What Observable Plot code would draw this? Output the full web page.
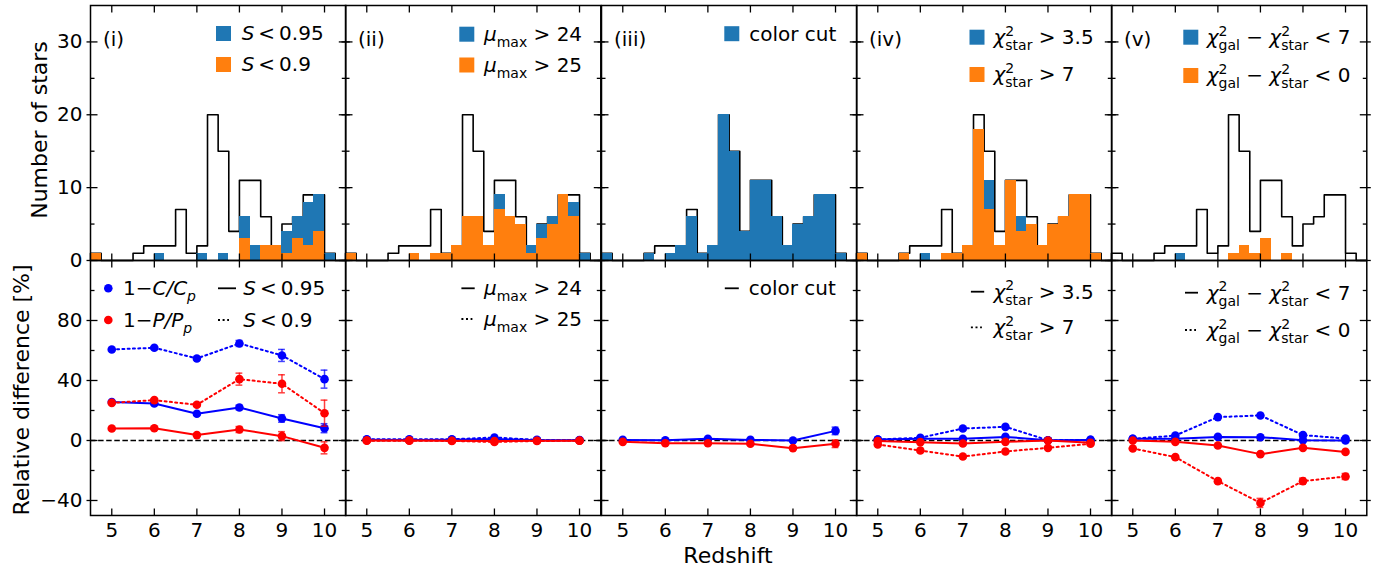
<!DOCTYPE html>
<html><head><meta charset="utf-8">
<script src="https://cdn.jsdelivr.net/npm/d3@7"></script>
<script src="https://cdn.jsdelivr.net/npm/@observablehq/plot@0.6"></script>
<style>
body{margin:0;background:#fff;}
#chart{position:relative;width:1384px;height:570px;overflow:hidden;background:#fff;}
#chart svg{position:absolute;overflow:visible;}
</style></head><body><div id="chart"></div>
<script>
// ---------- DATA ----------
const binStart = [4.5,4.75,5.0,5.25,5.5,5.75,6.0,6.25,6.5,6.75,7.0,7.25,7.5,7.75,8.0,8.25,8.5,8.75,9.0,9.25,9.5,9.75,10.0,10.25];
const binEnd   = [4.75,5.0,5.25,5.5,5.75,6.0,6.25,6.5,6.75,7.0,7.25,7.5,7.75,8.0,8.25,8.5,8.75,9.0,9.25,9.5,9.75,10.0,10.25,10.5];
const totalCounts = [1,0,0,0,1,2,2,2,7,1,2,20,15,4,11,11,6,2,5,6,9,9,1,0];
// blue = first cut, orange = second cut
const countsBlue_i   = [1,0,0,0,0,0,1,0,0,0,1,0,1,0,6,2,2,2,4,6,8,9,1,0];
const countsOrange_i = [1,0,0,0,0,0,0,0,0,0,0,0,0,0,3,0,2,2,1,3,2,4,0,0];
const countsBlue_ii   = [1,0,0,0,0,0,1,0,1,1,2,6,6,2,9,6,5,2,5,6,9,8,1,0];
const countsOrange_ii = [1,0,0,0,0,0,1,0,1,1,2,6,6,2,7,6,5,1,3,5,9,6,0,0];
const countsBlue_iii  = [1,0,0,0,1,0,1,2,6,1,2,20,15,4,11,11,6,2,5,6,9,9,1,0];
const countsBlue_iv   = [1,0,0,0,1,0,1,0,1,1,2,18,11,2,11,6,5,2,5,6,9,9,1,0];
const countsOrange_iv = [1,0,0,0,1,0,0,0,1,1,2,18,7,2,11,4,5,2,5,6,9,9,1,0];
const countsBlue_v    = [0,0,0,0,0,0,1,0,0,0,0,1,2,1,3,0,1,0,0,0,0,0,0,0];
const countsOrange_v  = [0,0,0,0,0,0,0,0,0,0,0,1,2,1,3,0,1,0,0,0,0,0,0,0];

const redshifts = [5,6,7,8,9,10];
// panel (i)
const relC_solid_i = [25.6,24.7,17.8,22.0,14.7,8.2],  errC_solid_i = [0.8,0.8,0.8,1.5,2.5,3.0];
const relC_dot_i   = [60.7,61.8,54.7,64.7,56.7,40.9], errC_dot_i   = [0.8,0.8,0.8,2.0,4.0,6.0];
const relP_solid_i = [8.0,8.2,3.6,7.3,2.9,-4.9],      errP_solid_i = [0.8,0.8,0.8,2.0,3.0,4.0];
const relP_dot_i   = [25.1,26.9,23.8,40.9,37.8,18.2], errP_dot_i   = [0.8,0.8,1.0,4.0,6.0,8.7];
// panel (ii)
const relC_solid_ii = [0.5,0.4,0.5,1.0,0.2,0.2];
const relC_dot_ii   = [0.8,0.8,0.8,2.0,0.4,0.3];
const relP_solid_ii = [0.0,0.0,-0.2,-0.4,-0.2,-0.1];
const relP_dot_ii   = [-0.1,-0.1,-0.3,-1.0,-0.3,-0.2];
// panel (iii)
const relC_solid_iii = [0.4,0.2,1.1,0.4,0.0,6.4],     errC_solid_iii = [0.5,0.5,0.5,0.5,0.5,2.5];
const relP_solid_iii = [-0.9,-1.8,-1.8,-2.2,-5.1,-2.2], errP_solid_iii = [0.5,0.5,0.5,0.5,0.5,2.5];
// panel (iv)
const relC_solid_iv = [0.7,1.1,1.1,2.4,0.2,0.4];
const relC_dot_iv   = [0.7,1.8,8.0,9.1,0.2,0.4];
const relP_solid_iv = [-0.4,-1.1,-2.0,-0.9,0.0,-1.5];
const relP_dot_iv   = [-2.7,-6.7,-10.7,-7.3,-4.9,-2.2];
// panel (v)
const relC_solid_v = [1.1,1.1,2.4,2.2,0.2,0.0];
const relC_dot_v   = [1.1,3.3,15.6,16.7,3.6,1.3];
const relP_solid_v = [0.0,-0.9,-3.3,-9.1,-4.9,-7.6];
const relP_dot_v   = [-5.3,-11.1,-27.1,-41.6,-27.1,-24.0], errP_dot_v = [0.5,0.5,1.0,3.0,2.0,2.0];

const xTicks = [5,6,7,8,9,10];
const yTicksTop = [0,10,20,30], yMinorTop = [5,15,25];
const yTicksBot = [-40,0,40,80], yMinorBot = [-20,20,60,100];
const panelLabels = ["(i)","(ii)","(iii)","(iv)","(v)"];

// ---------- LAYOUT / STYLE ----------
const F = '"DejaVu Sans", sans-serif';
const BLUE = "#1f77b4", ORANGE = "#ff7f0e";
const colX = [90, 345.3, 600.5, 855.8, 1111];
const rowY = [5, 260];
const PW = 255.3, PH = 255;
const chart = document.getElementById("chart");
const TS = "\u2009";

const S = (t) => ({it: t});
const legendTexts = [
  [[S("S"), TS + "<" + TS + "0.95"], [S("S"), TS + "<" + TS + "0.9"]],
  [[S("μ"), {sub: "max"}, " > 24"], [S("μ"), {sub: "max"}, " > 25"]],
  [["color cut"]],
  [[S("χ"), {sup: "2", sub: "star"}, " > 3.5"], [S("χ"), {sup: "2", sub: "star"}, " > 7"]],
  [[S("χ"), {sup: "2", sub: "gal"}, " − ", S("χ"), {sup: "2", sub: "star"}, " < 7"],
   [S("χ"), {sup: "2", sub: "gal"}, " − ", S("χ"), {sup: "2", sub: "star"}, " < 0"]]
];
// legend placement (square/handle x, text x, row centres) in panel-local px
const topLeg = [
  {sq: 126, tx: 151.7, rows: [28.5, 59.5]},
  {sq: 114.3, tx: 139, rows: [29.2, 60]},
  {sq: 123.3, tx: 148.3, rows: [28.7]},
  {sq: 113.5, tx: 137.5, rows: [32.2, 69.5]},
  {sq: 72.3, tx: 95.7, rows: [32.2, 70.5]}
];
const botLeg = [
  {h1: 128, h2: 146, tx: 153.3, rows: [28.3, 60]},
  {h1: 116.4, h2: 129.7, tx: 139, rows: [28.3, 59]},
  {h1: 123.8, h2: 137.8, tx: 147.8, rows: [28.3]},
  {h1: 114.9, h2: 128.2, tx: 137.5, rows: [31.7, 67.3]},
  {h1: 74, h2: 87, tx: 95.7, rows: [32.7, 70]}
];

function rich(g, x, y, parts, size = 20) {
  const t = g.append("text").attr("x", x).attr("y", y).attr("font-size", size)
    .attr("font-family", F).attr("fill", "black").attr("text-anchor", "start").style("white-space", "pre");
  let off = 0;
  const add = (txt, shift, fs, italic, dx) => {
    const s = t.append("tspan").text(txt).attr("dy", shift - off).attr("font-size", fs);
    if (italic) s.attr("font-style", "italic");
    if (dx) s.attr("dx", dx);
    off = shift;
  };
  for (const p of parts) {
    if (typeof p === "string") add(p, 0, size, false);
    else if (p.it) add(p.it, 0, size, true);
    else if (p.sup) { add(p.sup, -0.42 * size, 0.7 * size, false); add(p.sub, 0.3 * size, 0.7 * size, false, -0.636 * 0.7 * size); }
    else if (p.sub) add(p.sub, 0.3 * size, 0.7 * size, !!p.subIt);
  }
  return t;
}

// tick-mark symbols: a straight segment leaving the anchor point
const seg = (dx, dy) => ({draw(ctx) { ctx.moveTo(0, 0); ctx.lineTo(dx, dy); }});
function tickDots(vals, ch, anchor, sym) {
  const o = {frameAnchor: anchor, symbol: sym, stroke: "black", strokeWidth: 1.3, fill: "none", r: 1};
  o[ch] = (d) => d;
  return Plot.dot(vals, o);
}
function frameTicks(yMaj, yMin) {
  return [
    tickDots(xTicks, "x", "bottom", seg(0, -7)),
    tickDots(xTicks, "x", "top", seg(0, 7)),
    tickDots(yMaj, "y", "left", seg(7, 0)),
    tickDots(yMaj, "y", "right", seg(-7, 0)),
    tickDots(yMin, "y", "left", seg(4, 0)),
    tickDots(yMin, "y", "right", seg(-4, 0)),
    tickDots(yMaj, "y", "left", seg(-4, 0)),
    tickDots(yMaj, "y", "right", seg(4, 0)),
    Plot.frame({stroke: "black", strokeWidth: 1.5})
  ];
}
const fmt = (d) => d < 0 ? "−" + Math.abs(d) : String(d);

function place(svg, c, r) {
  svg.style.left = colX[c] + "px";
  svg.style.top = rowY[r] + "px";
  chart.appendChild(svg);
}

// ---------- TOP ROW: histograms ----------
const blueSets = [countsBlue_i, countsBlue_ii, countsBlue_iii, countsBlue_iv, countsBlue_v];
const orangeSets = [countsOrange_i, countsOrange_ii, null, countsOrange_iv, countsOrange_v];

for (let c = 0; c < 5; c++) {
  const bins = binStart.map((s, k) => ({x1: s, x2: binEnd[k], total: totalCounts[k],
    blue: blueSets[c][k], orange: orangeSets[c] ? orangeSets[c][k] : 0}));
  const step = [{x: binStart[0], y: 0}, ...bins.map(b => ({x: b.x1, y: b.total})), {x: binEnd[binEnd.length - 1], y: 0}];
  const marks = [
    Plot.line(step, {x: "x", y: "y", curve: "step-after", stroke: "black", strokeWidth: 1.6}),
    Plot.rectY(bins.filter(b => b.blue > 0), {x1: "x1", x2: "x2", y: "blue", fill: BLUE, shapeRendering: "crispEdges"}),
  ];
  if (orangeSets[c]) marks.push(Plot.rectY(bins.filter(b => b.orange > 0), {x1: "x1", x2: "x2", y: "orange", fill: ORANGE, shapeRendering: "crispEdges"}));
  marks.push(...frameTicks(yTicksTop, yMinorTop));
  const yAxisLabels = c === 0;
  if (yAxisLabels) marks.push(Plot.axisY({anchor: "left", ticks: yTicksTop, tickSize: 0, tickPadding: 8, fontSize: 20, label: null, tickFormat: fmt}));
  const svg = Plot.plot({
    width: PW, height: PH, margin: 0,
    style: {overflow: "visible", background: "transparent", fontFamily: F},
    x: {domain: [4.5, 10.5], axis: null},
    y: yAxisLabels ? {domain: [0, 35]} : {domain: [0, 35], axis: null},
    marks
  });
  const g = d3.select(svg).append("g").attr("text-anchor", "start");
  g.append("text").attr("x", 13).attr("y", 41.5).attr("font-size", 20).attr("font-family", F).attr("text-anchor", "start").text(panelLabels[c]);
  const L = topLeg[c];
  legendTexts[c].forEach((parts, k) => {
    const yc = L.rows[k];
    g.append("rect").attr("x", L.sq).attr("y", yc - 7.5).attr("width", 15).attr("height", 15).attr("fill", k === 0 ? BLUE : ORANGE);
    rich(g, L.tx, yc + 7, parts);
  });
  place(svg, c, 0);
}

// ---------- BOTTOM ROW: relative differences ----------
const zeroErr = [0,0,0,0,0,0];
const bottomSeries = [
  [[relC_solid_i, errC_solid_i, "blue", false], [relC_dot_i, errC_dot_i, "blue", true], [relP_solid_i, errP_solid_i, "red", false], [relP_dot_i, errP_dot_i, "red", true]],
  [[relC_solid_ii, zeroErr, "blue", false], [relC_dot_ii, zeroErr, "blue", true], [relP_solid_ii, zeroErr, "red", false], [relP_dot_ii, zeroErr, "red", true]],
  [[relC_solid_iii, errC_solid_iii, "blue", false], [relP_solid_iii, errP_solid_iii, "red", false]],
  [[relC_solid_iv, zeroErr, "blue", false], [relC_dot_iv, zeroErr, "blue", true], [relP_solid_iv, zeroErr, "red", false], [relP_dot_iv, zeroErr, "red", true]],
  [[relC_solid_v, zeroErr, "blue", false], [relC_dot_v, zeroErr, "blue", true], [relP_solid_v, zeroErr, "red", false], [relP_dot_v, errP_dot_v, "red", true]]
];

for (let c = 0; c < 5; c++) {
  const marks = [Plot.ruleY([0], {stroke: "black", strokeWidth: 1.4, strokeDasharray: "5.5,2.6"})];
  for (const [vals, errs, col, dotted] of bottomSeries[c]) {
    const rows = redshifts.map((x, k) => ({x, y: vals[k], e: errs[k]}));
    const er = rows.filter(d => d.e > 0);
    marks.push(
      Plot.line(rows, {x: "x", y: "y", stroke: col, strokeWidth: 2, strokeDasharray: dotted ? "2,3.3" : null}),
      Plot.ruleX(er, {x: "x", y1: d => d.y - d.e, y2: d => d.y + d.e, stroke: col, strokeOpacity: 0.75, strokeWidth: 1.5}),
      Plot.ruleY(er, {y: d => d.y - d.e, x1: d => d.x - 0.08, x2: d => d.x + 0.08, stroke: col, strokeOpacity: 0.75, strokeWidth: 1.5}),
      Plot.ruleY(er, {y: d => d.y + d.e, x1: d => d.x - 0.08, x2: d => d.x + 0.08, stroke: col, strokeOpacity: 0.75, strokeWidth: 1.5}),
      Plot.dot(rows, {x: "x", y: "y", r: 4.3, fill: col, stroke: "none"})
    );
  }
  marks.push(...frameTicks(yTicksBot, yMinorBot));
  marks.push(Plot.axisX({anchor: "bottom", ticks: xTicks, tickSize: 0, tickPadding: 7, fontSize: 20, label: null, tickFormat: (d) => String(d)}));
  const yAxisLabels = c === 0;
  if (yAxisLabels) marks.push(Plot.axisY({anchor: "left", ticks: yTicksBot, tickSize: 0, tickPadding: 8, fontSize: 20, label: null, tickFormat: fmt}));
  const svg = Plot.plot({
    width: PW, height: PH, margin: 0,
    style: {overflow: "visible", background: "transparent", fontFamily: F},
    x: {domain: [4.5, 10.5]},
    y: yAxisLabels ? {domain: [-50, 120]} : {domain: [-50, 120], axis: null},
    marks
  });
  const g = d3.select(svg).append("g").attr("text-anchor", "start");
  const L = botLeg[c];
  legendTexts[c].forEach((parts, k) => {
    const yc = L.rows[k];
    const end = k === 0 ? L.h2 : L.h1 + 11;
    g.append("line").attr("x1", L.h1).attr("x2", end).attr("y1", yc).attr("y2", yc)
      .attr("stroke", "black").attr("stroke-width", 1.8).attr("stroke-dasharray", k === 0 ? null : "2,2.6");
    rich(g, L.tx, yc + 7, parts);
  });
  if (c === 0) {
    const dl = [["blue", [ "1−", S("C/C"), {sub: "p", subIt: true} ]], ["red", [ "1−", S("P/P"), {sub: "p", subIt: true} ]]];
    dl.forEach(([col, parts], k) => {
      const yc = L.rows[k];
      g.append("circle").attr("cx", 18.3).attr("cy", yc).attr("r", 4.3).attr("fill", col);
      rich(g, 33, yc + 7, parts);
    });
  }
  place(svg, c, 1);
}

// ---------- axis titles ----------
const ov = d3.select(chart).append("svg").attr("width", 1384).attr("height", 570).style("left", "0px").style("top", "0px");
ov.append("text").attr("transform", "translate(46.5,130) rotate(-90)").attr("text-anchor", "middle")
  .attr("font-family", F).attr("font-size", 22).text("Number of stars");
ov.append("text").attr("transform", "translate(29,390) rotate(-90)").attr("text-anchor", "middle")
  .attr("font-family", F).attr("font-size", 22).text("Relative difference [%]");
ov.append("text").attr("x", 728).attr("y", 563).attr("text-anchor", "middle")
  .attr("font-family", F).attr("font-size", 22).text("Redshift");
</script></body></html>
